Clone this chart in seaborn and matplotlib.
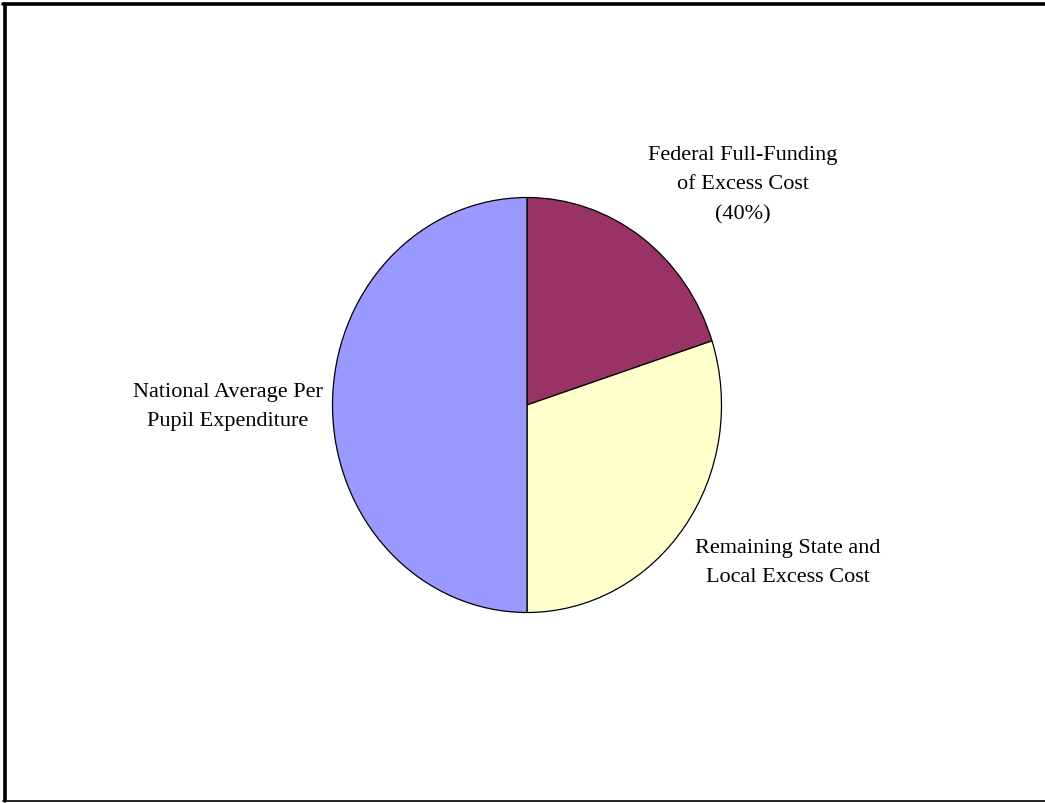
import matplotlib
matplotlib.use('Agg')
import matplotlib.pyplot as plt
import seaborn as sns
from matplotlib.lines import Line2D

categories = ['Federal Full-Funding\nof Excess Cost\n(40%)',
              'Remaining State and\nLocal Excess Cost',
              'National Average Per\nPupil Expenditure']
shares = [20, 30, 50]
colors = ['#993366', '#FFFFCC', '#9999FF']

sns.set_theme(style='white')
plt.rcParams['font.family'] = ['Liberation Serif', 'DejaVu Serif']

W, H = 1045, 804
fig = plt.figure(figsize=(W / 100, H / 100), dpi=100)
fig.patch.set_facecolor('white')

# pie is a bit taller than wide in the original
cx, cy, rx, ry = 527, 406, 194.5, 207.5
ax = fig.add_axes([(cx - rx) / W, (H - cy - ry) / H, 2 * rx / W, 2 * ry / H])
ax.pie(shares, colors=colors, startangle=90, counterclock=False,
       wedgeprops={'edgecolor': 'black', 'linewidth': 0.9})
ax.set_aspect('auto')
ax.set_xlim(-1, 1)
ax.set_ylim(-1, 1)
ax.axis('off')

# slice labels
label_pos = [(743, 185), (788, 563), (228, 407)]
for lab, (x, y) in zip(categories, label_pos):
    fig.text(x / W, 1 - y / H, lab, ha='center', va='center',
             fontsize=16, linespacing=1.75, color='black')

# frame (right side is cut off in the original)
fig.add_artist(Line2D([4.5 / W, 4.5 / W], [1 - 4.5 / H, 1 - 802 / H], color='black', lw=2.6))
fig.add_artist(Line2D([3 / W, 1], [1 - 4.5 / H, 1 - 4.5 / H], color='black', lw=2.6))
fig.add_artist(Line2D([3 / W, 1], [1 - 802 / H, 1 - 802 / H], color='black', lw=1.2))

fig.savefig('out.png', dpi=100)
